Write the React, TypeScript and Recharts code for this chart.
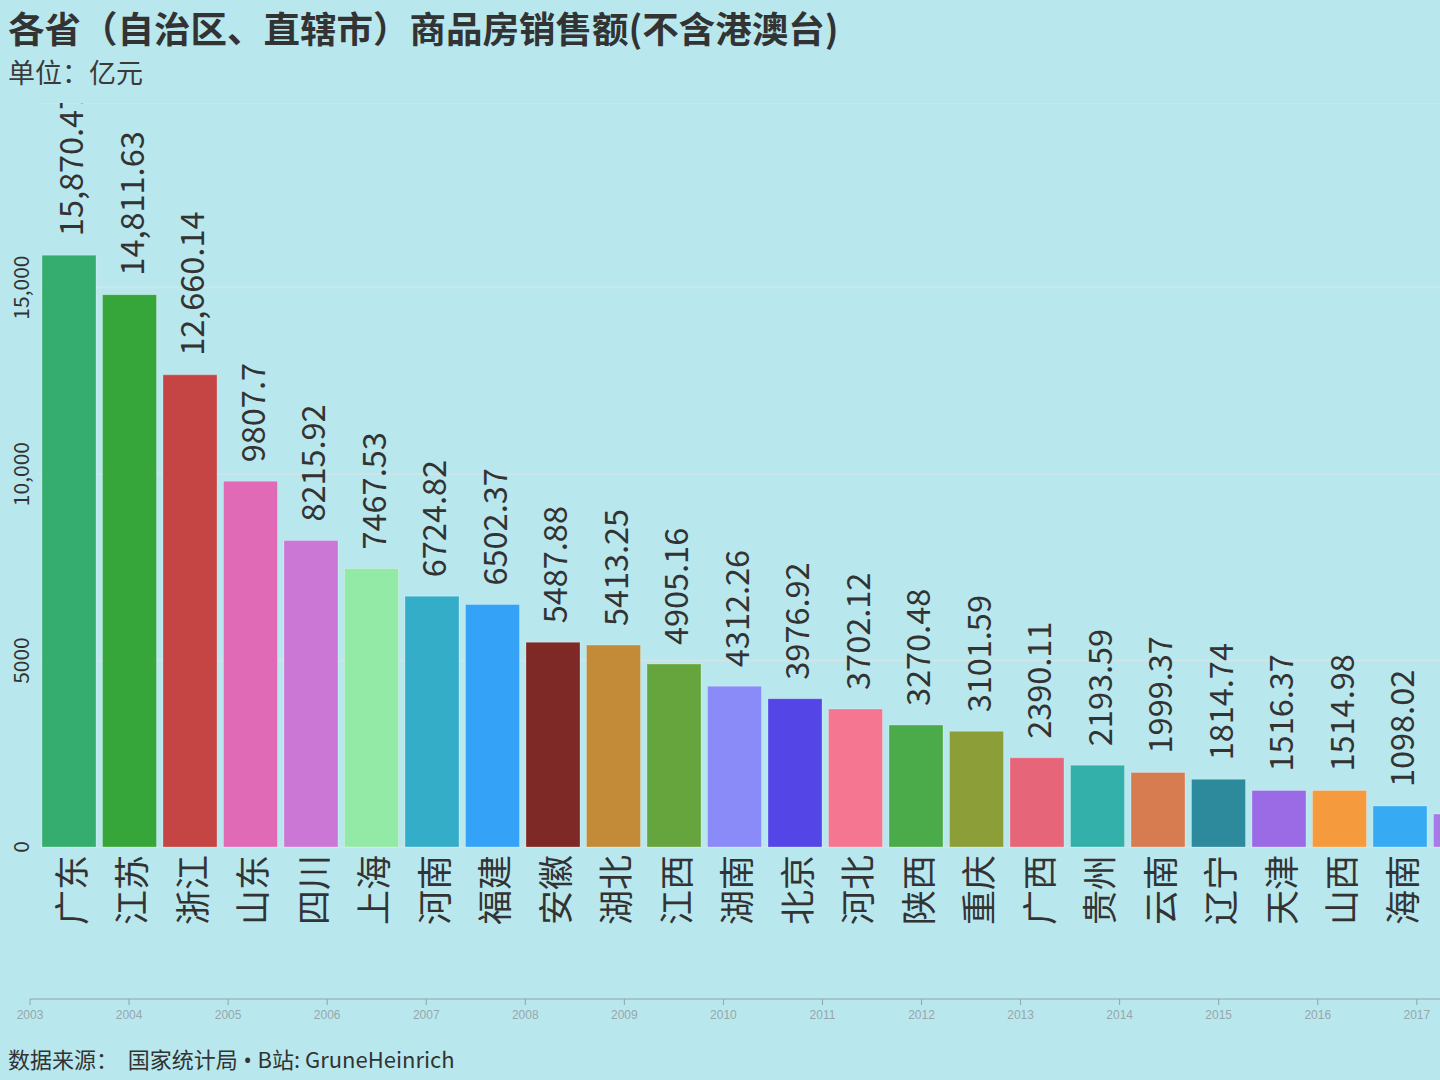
import React from "react";
import { BarChart, Bar, XAxis, YAxis, CartesianGrid, Cell, LabelList, LineChart, Line } from "recharts";

const provinces = [
  "广东", "江苏", "浙江", "山东", "四川", "上海", "河南", "福建", "安徽", "湖北", "江西", "湖南",
  "北京", "河北", "陕西", "重庆", "广西", "贵州", "云南", "辽宁", "天津", "山西", "海南", "吉林",
];

const sales = [
  15870.47, 14811.63, 12660.14, 9807.7, 8215.92, 7467.53, 6724.82, 6502.37, 5487.88, 5413.25, 4905.16, 4312.26,
  3976.92, 3702.12, 3270.48, 3101.59, 2390.11, 2193.59, 1999.37, 1814.74, 1516.37, 1514.98, 1098.02, 885,
];

const barColors = [
  "#34ad6e", "#36a63a", "#c54444", "#e06ab6", "#cb77d6", "#93e9a6", "#34adc9", "#34a2f6", "#7f2926", "#c38b37",
  "#66a43d", "#8a8bf8", "#5446e6", "#f57690", "#4bab4b", "#8c9e37", "#e66578", "#34b0aa", "#d77c50", "#2d8a9d",
  "#9b6be6", "#f69a3e", "#36aaf3", "#a67be8",
];

const valueTicks = [0, 5000, 10000, 15000];

const years = [2003, 2004, 2005, 2006, 2007, 2008, 2009, 2010, 2011, 2012, 2013, 2014, 2015, 2016, 2017];

const data = provinces.map((name, i) => ({ name, value: sales[i] }));
const yearData = years.map((year) => ({ year }));

const FONT = "'Noto Sans CJK SC', 'Noto Sans', sans-serif";
const BG = "#b8e8ee";
const TEXT = "#333333";

const fmt = (v: number) =>
  v >= 10000 ? v.toLocaleString("en-US", { maximumFractionDigits: 2 }) : String(v);

const ValueLabel = (props: any) => {
  const { x, y, width, value } = props;
  const cx = x + width / 2;
  const ty = y - 19;
  return (
    <text
      x={cx}
      y={ty}
      transform={`rotate(-90, ${cx}, ${ty})`}
      textAnchor="start"
      dominantBaseline="central"
      fontSize={32.5}
      fontFamily={FONT}
      fill={TEXT}
    >
      {fmt(value)}
    </text>
  );
};

const CategoryTick = (props: any) => {
  const { x, y, payload } = props;
  const ty = y + 8;
  return (
    <text
      x={x}
      y={ty}
      transform={`rotate(-90, ${x}, ${ty})`}
      textAnchor="end"
      dominantBaseline="central"
      fontSize={35}
      fontFamily={FONT}
      fill={TEXT}
    >
      {payload.value}
    </text>
  );
};

const ValueTick = (props: any) => {
  const { y, payload } = props;
  const tx = 20;
  return (
    <text
      x={tx}
      y={y}
      transform={`rotate(-90, ${tx}, ${y})`}
      textAnchor="middle"
      dominantBaseline="central"
      fontSize={21}
      fontFamily={FONT}
      fill={TEXT}
    >
      {fmt(payload.value)}
    </text>
  );
};

export default function App() {
  return (
    <div
      style={{
        position: "fixed",
        left: 0,
        top: 0,
        width: 1440,
        height: 1080,
        overflow: "hidden",
        background: BG,
        fontFamily: FONT,
        color: TEXT,
      }}
    >
      <div style={{ position: "absolute", left: 8, top: 8, fontSize: 36.5, lineHeight: "40px", fontWeight: 700, whiteSpace: "nowrap" }}>
        各省（自治区、直辖市）商品房销售额(不含港澳台)
      </div>
      <div style={{ position: "absolute", left: 8, top: 58, fontSize: 27, lineHeight: "28px", color: "#3a3a3a" }}>
        单位：亿元
      </div>

      <div style={{ position: "absolute", left: 0, top: 103, width: 1491, height: 890, overflow: "hidden" }}>
        <BarChart width={1491} height={890} data={data} margin={{ top: 0, right: 0, bottom: 0, left: 0 }}>
          <CartesianGrid vertical={false} stroke="#d3e4e8" strokeWidth={1.5} />
          <XAxis
            dataKey="name"
            interval={0}
            height={146}
            axisLine={false}
            tickLine={false}
            tickSize={0}
            tickMargin={0}
            tick={<CategoryTick />}
          />
          <YAxis
            width={39}
            domain={[0, 19950]}
            ticks={valueTicks}
            axisLine={false}
            tickLine={false}
            tick={<ValueTick />}
          />
          <Bar dataKey="value" barSize={54} isAnimationActive={false} stroke="#ffffff" strokeOpacity={0.25} strokeWidth={1}>
            {data.map((d, i) => (
              <Cell key={d.name} fill={barColors[i]} />
            ))}
            <LabelList dataKey="value" content={<ValueLabel />} />
          </Bar>
        </BarChart>
      </div>

      <div style={{ position: "absolute", left: 0, top: 994 }}>
        <LineChart width={1714} height={45} data={yearData} margin={{ top: 0, right: 0, bottom: 0, left: 30 }}>
          <XAxis
            dataKey="year"
            type="number"
            domain={[2003, 2020]}
            ticks={years}
            height={40}
            stroke="#8fa4a8"
            tickSize={6}
            tickMargin={5}
            tick={{ fill: "#98a6a9", fontSize: 12, fontFamily: "'Liberation Sans', Arial, sans-serif" }}
          />
          <YAxis hide />
          <Line dataKey="year" stroke="none" dot={false} isAnimationActive={false} />
        </LineChart>
      </div>

      <div style={{ position: "absolute", left: 8, top: 1045, fontSize: 22, lineHeight: "26px", whiteSpace: "pre" }}>
        {"数据来源：  国家统计局"}
        <span style={{ fontFamily: "'Noto Sans', sans-serif" }}>{" • "}</span>
        {"B站: GruneHeinrich"}
      </div>
    </div>
  );
}
